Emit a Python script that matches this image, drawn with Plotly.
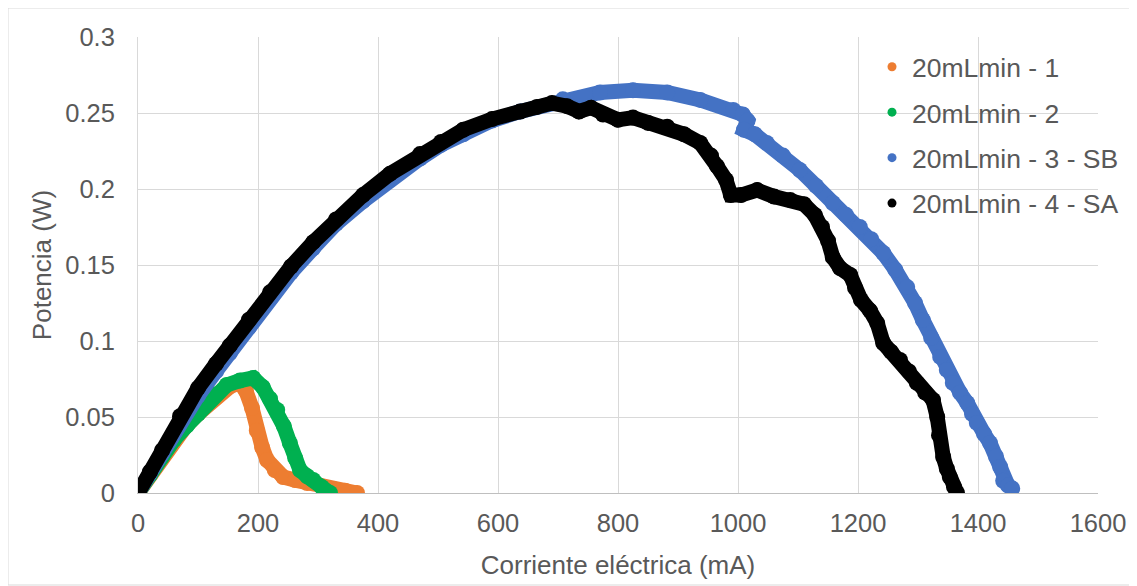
import plotly.graph_objects as go

# ---------------- data ----------------
series_names = ["20mLmin - 1", "20mLmin - 2", "20mLmin - 3 - SB", "20mLmin - 4 - SA"]
series_colors = ["#ED7D31", "#00B050", "#4472C4", "#000000"]

x_ticks = [0, 200, 400, 600, 800, 1000, 1200, 1400, 1600]
y_ticks = [0, 0.05, 0.1, 0.15, 0.2, 0.25, 0.3]
y_tick_labels = ["0", "0.05", "0.1", "0.15", "0.2", "0.25", "0.3"]

# 20mLmin - 1 (orange)
s1_x = [0, 20, 40, 60, 80, 100, 120, 140, 155, 170, 180, 190, 198, 207, 215, 228, 242, 262, 282, 305, 325, 345, 365]
s1_y = [0, 0.012, 0.024, 0.035, 0.044, 0.052, 0.06, 0.067, 0.0705, 0.072, 0.067, 0.056, 0.041, 0.030, 0.0217, 0.015, 0.0105, 0.0085, 0.0066, 0.0045, 0.0026, 0.0015, 0.0]

# 20mLmin - 2 (green)
s2_x = [0, 20, 40, 60, 82, 100, 115, 130, 148, 170, 192, 208, 220, 232, 243, 253, 262, 270, 282, 292, 306, 320]
s2_y = [0, 0.012, 0.024, 0.035, 0.0445, 0.052, 0.0592, 0.065, 0.0711, 0.074, 0.0757, 0.0697, 0.062, 0.0546, 0.044, 0.0329, 0.023, 0.0151, 0.011, 0.0086, 0.004, 0.0]

# 20mLmin - 3 - SB (blue)
s3_x = [0, 20, 40, 70, 100, 130, 153, 185, 220, 255, 292, 330, 375, 420, 470, 505, 542, 590, 637, 708, 770, 825, 882, 937,
        992, 1008, 1016, 1010, 1028, 1048, 1075, 1103, 1130, 1158, 1180, 1203, 1222, 1242, 1262, 1282, 1295, 1308, 1322,
        1337, 1348, 1358, 1370, 1382, 1390, 1398, 1410, 1420, 1430, 1437, 1442, 1450, 1457]
s3_y = [0, 0.013, 0.026, 0.046, 0.064, 0.080, 0.092, 0.109, 0.128, 0.145, 0.161, 0.177, 0.192, 0.206, 0.220, 0.229, 0.236, 0.245, 0.251, 0.259, 0.2635, 0.265, 0.2635, 0.2586,
        0.252, 0.249, 0.245, 0.239, 0.236, 0.2303, 0.222, 0.2125, 0.202, 0.1908, 0.183, 0.175, 0.167, 0.1579, 0.147, 0.1355, 0.125, 0.1138, 0.102,
        0.0895, 0.081, 0.0724, 0.066, 0.0592, 0.052, 0.0461, 0.039, 0.0329, 0.024, 0.0171, 0.008, 0.005, 0.003]

# 20mLmin - 4 - SA (black)
s4_x = [0, 20, 40, 70, 100, 130, 153, 185, 220, 255, 292, 330, 375, 420, 470, 505, 542, 590, 637, 665, 690, 715, 735, 755,
        775, 800, 825, 850, 882, 910, 937, 955, 965, 980, 988, 1005, 1032, 1060, 1087, 1110, 1128, 1140, 1150, 1158, 1170,
        1187, 1195, 1205, 1220, 1232, 1242, 1255, 1270, 1285, 1298, 1312, 1325, 1332, 1335, 1342, 1348, 1353, 1360, 1365]
s4_y = [0, 0.014, 0.028, 0.0505, 0.069, 0.085, 0.097, 0.114, 0.132, 0.149, 0.165, 0.180, 0.196, 0.210, 0.223, 0.231, 0.239, 0.246, 0.251, 0.254, 0.2565, 0.2545, 0.251, 0.2535,
        0.249, 0.2455, 0.247, 0.2435, 0.241, 0.236, 0.2303, 0.222, 0.215, 0.206, 0.196, 0.196, 0.1993, 0.195, 0.1928, 0.19, 0.1829, 0.175, 0.166, 0.155, 0.148,
        0.1434, 0.135, 0.127, 0.12, 0.1118, 0.0987, 0.093, 0.0875, 0.08, 0.0724, 0.066, 0.0612, 0.05, 0.038, 0.0237, 0.016, 0.0105, 0.004, 0.0]

all_x = [s1_x, s2_x, s3_x, s4_x]
all_y = [s1_y, s2_y, s3_y, s4_y]

# ---------------- figure ----------------
FONT = "Liberation Sans, Arial, sans-serif"
TXT = "#595959"

fig = go.Figure()
for name, color, xs, ys in zip(series_names, series_colors, all_x, all_y):
    fig.add_trace(go.Scatter(
        x=xs, y=ys, mode="lines+markers", name=name, showlegend=False,
        line=dict(color=color, width=15, shape="linear"),
        marker=dict(color=color, size=16, line=dict(width=0)),
        hoverinfo="x+y+name",
    ))
# legend entries (small markers, like the reference)
for i, (name, color) in enumerate(zip(series_names, series_colors)):
    fig.add_trace(go.Scatter(
        x=[None], y=[None], mode="markers", name=name, legendgroup="g%d" % i,
        marker=dict(color=color, size=9),
    ))

# page has an 8px body margin: figure origin is at page (8, 8)
W, H = 1129, 578
L, R, T, B = 130, 39, 29, 93
pw, ph = W - L - R, H - T - B

fig.update_layout(
    width=W, height=H,
    margin=dict(l=L, r=R, t=T, b=B, autoexpand=False),
    paper_bgcolor="white", plot_bgcolor="white",
    font=dict(family=FONT, size=25, color=TXT),
    legend=dict(
        x=(872 - 8 - L) / pw, y=(H - B - (43 - 8)) / ph, xanchor="left", yanchor="top",
        bgcolor="rgba(0,0,0,0)", font=dict(size=26.5, color=TXT, family=FONT),
        tracegroupgap=8, itemsizing="trace",
    ),
    xaxis=dict(
        range=[0, 1600], tickvals=x_ticks, ticktext=[str(v) for v in x_ticks],
        showgrid=True, gridcolor="#d9d9d9", gridwidth=1,
        zeroline=False, showline=True, linecolor="#bfbfbf", linewidth=1,
        ticks="", ticklabelstandoff=7, tickfont=dict(size=25.5),
        title=dict(text="Corriente eléctrica (mA)", font=dict(size=26, color=TXT), standoff=20),
        automargin=False,
    ),
    yaxis=dict(
        range=[0, 0.3], tickvals=y_ticks, ticktext=y_tick_labels,
        showgrid=True, gridcolor="#d9d9d9", gridwidth=1,
        zeroline=False, showline=True, linecolor="#d9d9d9", linewidth=1,
        ticks="", ticklabelstandoff=17, tickfont=dict(size=25.5),
        title=dict(text="Potencia (W)", font=dict(size=26, color=TXT), standoff=6),
        automargin=False,
    ),
    shapes=[dict(
        type="rect", xref="paper", yref="paper",
        x0=(0 - L) / pw, x1=(W - 1 - L) / pw, y0=(H - B - (H - 1)) / ph, y1=(H - B - 0) / ph,
        line=dict(color="#d9d9d9", width=1), fillcolor="rgba(0,0,0,0)", layer="below",
    )],
)

fig.write_html("out.html")
